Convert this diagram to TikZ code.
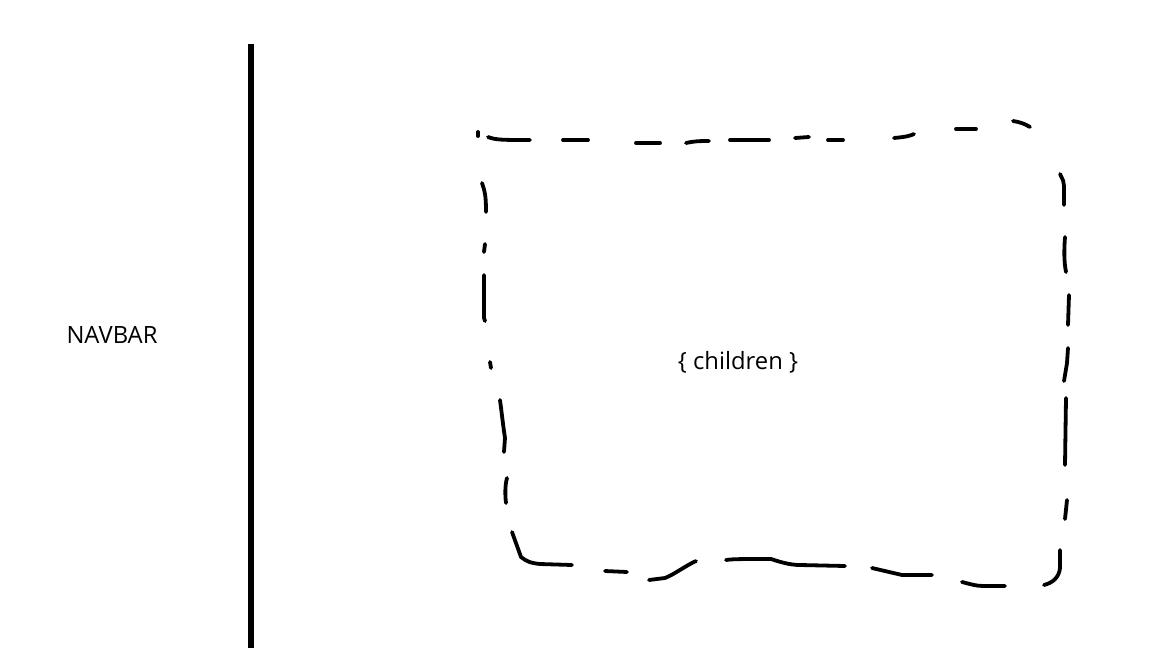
\documentclass[tikz,border=0pt]{standalone}
\usepackage{fontspec}
\setmainfont{Open Sans}
\begin{document}
\begin{tikzpicture}[x=0.5pt,y=-0.5pt,
  stroke/.style={line width=1.9pt,line cap=round,line join=round},
  divider/.style={line width=2.6pt},
  label/.style={font=\fontsize{11.9pt}{14pt}\selectfont,inner sep=0pt}]
\useasboundingbox (0,0) rectangle (1152,648);
\fill[white] (0,0) rectangle (1152,648);
% navbar divider
\draw[divider] (251,44) -- (251,648);
\node[label] (navbar) at (112,335) {NAVBAR};
\node[label] (children) at (738,362) {\{ children \}};
% top edge
\draw[stroke] (478,132) -- (478,136);
\draw[stroke] (488,137) .. controls (496,140) and (502,140) .. (530,140);
\draw[stroke] (563,140) -- (588,140);
\draw[stroke] (636,143) -- (660,143);
\draw[stroke] (686,143) .. controls (695,141) and (700,141) .. (709,141);
\draw[stroke] (730,140) -- (769,140);
\draw[stroke] (795,138) -- (809,137);
\draw[stroke] (828,140) -- (843,140);
\draw[stroke] (894,138) .. controls (905,137) and (910,136) .. (914,134);
\draw[stroke] (956,129) -- (976,129);
\draw[stroke] (1013,121) .. controls (1020,122) and (1025,124) .. (1030,127);
% right edge
\draw[stroke] (1060,174) .. controls (1063,180) and (1064,182) .. (1064,186) -- (1064,205);
\draw[stroke] (1065,237) .. controls (1064,250) and (1064,262) .. (1066,272);
\draw[stroke] (1069,295) -- (1068,325);
\draw[stroke] (1068,348) -- (1067,363) -- (1064,381);
\draw[stroke] (1066,398) -- (1065,465);
\draw[stroke] (1067,500) -- (1065,519);
\draw[stroke] (1060,550) -- (1060,568) .. controls (1059,578) and (1052,583) .. (1044,585);
% bottom edge
\draw[stroke] (962,582) .. controls (970,584) and (976,586) .. (983,586) -- (1005,586);
\draw[stroke] (872,568) -- (902,575) -- (932,575);
\draw[stroke] (726,560) .. controls (733,559) and (740,559) .. (771,559) .. controls (780,562) and (790,565) .. (800,565) -- (845,566);
\draw[stroke] (649,580) -- (665,578) .. controls (675,574) and (685,566) .. (696,561);
\draw[stroke] (605,571) -- (627,572);
\draw[stroke] (512,532) -- (521,557) .. controls (526,561) and (530,563) .. (540,564) -- (572,565);
% left edge
\draw[stroke] (507,478) .. controls (505,485) and (505,495) .. (506,503);
\draw[stroke] (500,400) .. controls (502,415) and (503,425) .. (505,438) -- (504,452);
\draw[stroke] (490,362) -- (491,368);
\draw[stroke] (484,275) -- (484,318) -- (485,321);
\draw[stroke] (485,244) -- (484,252);
\draw[stroke] (482,183) .. controls (485,192) and (486,196) .. (486,212);
\end{tikzpicture}
\end{document}
